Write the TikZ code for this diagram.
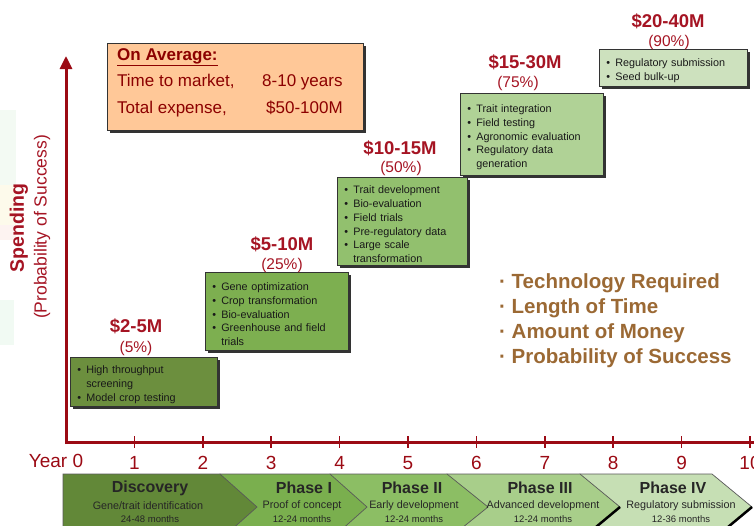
\documentclass[tikz,border=0pt]{standalone}
\usepackage{fontspec}
\setmainfont{Liberation Sans}
\usetikzlibrary{shadows,arrows.meta}
\hyphenpenalty=10000
\exhyphenpenalty=10000
\definecolor{axred}{RGB}{155,10,20}
\definecolor{lblred}{RGB}{165,20,35}
\definecolor{txtred}{RGB}{140,0,0}
\definecolor{gA}{RGB}{108,143,62}
\definecolor{gB}{RGB}{125,175,80}
\definecolor{gC}{RGB}{146,192,110}
\definecolor{gD}{RGB}{176,210,150}
\definecolor{gE}{RGB}{205,225,190}
\definecolor{cA}{RGB}{98,136,56}
\definecolor{cB}{RGB}{122,175,78}
\definecolor{cC}{RGB}{140,190,100}
\definecolor{cD}{RGB}{168,206,138}
\definecolor{cE}{RGB}{198,223,180}
\definecolor{peach}{RGB}{255,200,152}
\definecolor{brownish}{RGB}{155,105,52}
\newcommand\bitem{\par\leftskip=9pt\noindent\llap{\makebox[9pt][l]{\textbullet}}}
\begin{document}
\begin{tikzpicture}[x=1pt,y=-1pt,
  gbox/.style={draw=black!80, line width=0.6pt, anchor=north west, inner xsep=7pt, inner ysep=2pt,
     align=left, font=\fontsize{10.8}{13.8}\selectfont, text=black!90,
     drop shadow={shadow xshift=2.5pt,shadow yshift=-2.5pt,fill=black!80,opacity=1}},
  cost/.style={font=\bfseries\fontsize{18.5}{18.5}\selectfont, text=lblred},
  prob/.style={font=\fontsize{15.5}{15.5}\selectfont, text=lblred},
  axis/.style={draw=axred, line width=3pt},
  tickmark/.style={draw=axred, line width=1.5pt},
  yrlbl/.style={font=\fontsize{19}{19}\selectfont, text=axred},
  chev/.style={draw=black!65, line width=0.7pt, line join=miter},
  ctitle/.style={font=\bfseries\fontsize{16}{16}\selectfont, text=black!85},
  csub/.style={font=\fontsize{10.8}{10.8}\selectfont, text=black!85},
  cmon/.style={font=\fontsize{9.5}{9.5}\selectfont, text=black!85},
  listitem/.style={anchor=west, font=\bfseries\fontsize{20.5}{20.5}\selectfont, text=brownish, inner sep=0pt},
  bgpatch/.style={draw=none, opacity=0.3}
]
\useasboundingbox (0,0) rectangle (754,525);
\clip (0,0) rectangle (754,525);

% faint slide background at the left edge
\fill[bgpatch, fill={rgb,255:red,215;green,240;blue,215}] (0,110) rectangle (16,185);
\fill[bgpatch, fill={rgb,255:red,250;green,238;blue,190}] (0,185) rectangle (16,225);
\fill[bgpatch, fill={rgb,255:red,250;green,215;blue,210}] (0,225) rectangle (16,240);
\fill[bgpatch, fill={rgb,255:red,210;green,238;blue,215}] (0,300) rectangle (14,345);

% chevrons (right to left so each tip overlaps the next)
\path[chev, fill=cE] (580,474) -- (712,474) -- (752,507) -- (712,540) -- (580,540) -- cycle;
\path[chev, fill=cD] (447,474) -- (580,474) -- (620,507) -- (580,540) -- (447,540) -- cycle;
\draw[black, line width=2.5pt] (620,507) -- (596,527);
\draw[black, line width=2.5pt] (752,507) -- (728,527);
\path[chev, fill=cC] (330,474) -- (447,474) -- (488,507) -- (447,540) -- (330,540) -- cycle;
\path[chev, fill=cB] (220,474) -- (330,474) -- (367,507) -- (330,540) -- (220,540) -- cycle;
\path[chev, fill=cA] (63,474) -- (220,474) -- (257,507) -- (220,540) -- (63,540) -- cycle;

\node[ctitle] (t0) at (150,488) {Discovery};
\node[csub]   (s0) at (148,506) {Gene/trait identification};
\node[cmon]   (m0) at (150,519) {24-48 months};
\node[ctitle] (t1) at (304,488) {Phase I};
\node[csub]   (s1) at (302,506) {Proof of concept};
\node[cmon]   (m1) at (302,519) {12-24 months};
\node[ctitle] (t2) at (412,488) {Phase II};
\node[csub]   (s2) at (414,506) {Early development};
\node[cmon]   (m2) at (414,519) {12-24 months};
\node[ctitle] (t3) at (540,488) {Phase III};
\node[csub]   (s3) at (543,506) {Advanced development};
\node[cmon]   (m3) at (543,519) {12-24 months};
\node[ctitle] (t4) at (673,488) {Phase IV};
\node[csub]   (s4) at (681,506) {Regulatory submission};
\node[cmon]   (m4) at (681,519) {12-36 months};

% axes
\coordinate (origin) at (66,442);
\coordinate (ytop) at (66,56);
\coordinate (xend) at (770,442);
\draw[axis] (origin) -- (xend);
\draw[axis, -{Triangle[width=12pt,length=13pt]}] (66,444) -- (ytop);
\foreach \i in {1,...,10} {
  \draw[tickmark] (66+68.4*\i,436) -- (66+68.4*\i,448);
  \node[yrlbl] (yr\i) at (66+68.4*\i,463) {\i};
}
\node[yrlbl] (yr0) at (56,461) {Year 0};

\node[rotate=90, font=\bfseries\fontsize{19.5}{19.5}\selectfont, text=lblred] (spend) at (19,228) {Spending};
\node[rotate=90, font=\fontsize{17.5}{17.5}\selectfont, text=lblred] (probs) at (42,227) {(Probability of Success)};

% orange summary box
\node[draw=black!80, line width=0.6pt, fill=peach, anchor=north west, minimum width=256pt, minimum height=87pt,
      drop shadow={shadow xshift=2.5pt,shadow yshift=-2.5pt,fill=black!80,opacity=1}] (avgbox) at (107,43) {};
\node[anchor=north west, align=left, inner sep=0pt, text=txtred, font=\fontsize{17}{26.5}\selectfont] (avgtxt) at (117,48)
  {\textbf{\underline{On Average:}}\\
   \makebox[145pt][l]{Time to market,}8-10 years\\
   \makebox[149pt][l]{Total expense,}\$50-100M};

% stage boxes
\node[gbox, fill=gA, text width=133pt, minimum height=49pt] (b1) at (70,357)
  {\bitem High throughput screening\bitem Model crop testing\par};
\node[gbox, fill=gB, text width=129pt, minimum height=78pt] (b2) at (205,272)
  {\bitem Gene optimization\bitem Crop transformation\bitem Bio-evaluation\bitem Greenhouse and field trials\par};
\node[gbox, fill=gC, text width=116pt, minimum height=88pt] (b3) at (337,177)
  {\bitem Trait development\bitem Bio-evaluation\bitem Field trials\bitem Pre-regulatory data\bitem Large scale transformation\par};
\node[gbox, fill=gD, text width=129pt, minimum height=82pt] (b4) at (460,93)
  {\bitem Trait integration\bitem Field testing\bitem Agronomic evaluation\bitem Regulatory data generation\par};
\node[gbox, fill=gE, text width=134pt, minimum height=37pt] (b5) at (599,49)
  {\bitem Regulatory submission\bitem Seed bulk-up\par};

% cost and probability labels
\node[cost] (c1) at (136,326) {\$2-5M};
\node[prob] (p1) at (136,348) {(5\%)};
\node[cost] (c2) at (282,244) {\$5-10M};
\node[prob] (p2) at (282,265) {(25\%)};
\node[cost] (c3) at (400,148) {\$10-15M};
\node[prob] (p3) at (401,168) {(50\%)};
\node[cost] (c4) at (525,62) {\$15-30M};
\node[prob] (p4) at (518,83) {(75\%)};
\node[cost] (c5) at (668,21) {\$20-40M};
\node[prob] (p5) at (669,42) {(90\%)};

% factor list
\node[listitem] (f1) at (499,283) {\char"00B7\ Technology Required};
\node[listitem] (f2) at (499,308) {\char"00B7\ Length of Time};
\node[listitem] (f3) at (499,333) {\char"00B7\ Amount of Money};
\node[listitem] (f4) at (499,358) {\char"00B7\ Probability of Success};
\end{tikzpicture}
\end{document}
